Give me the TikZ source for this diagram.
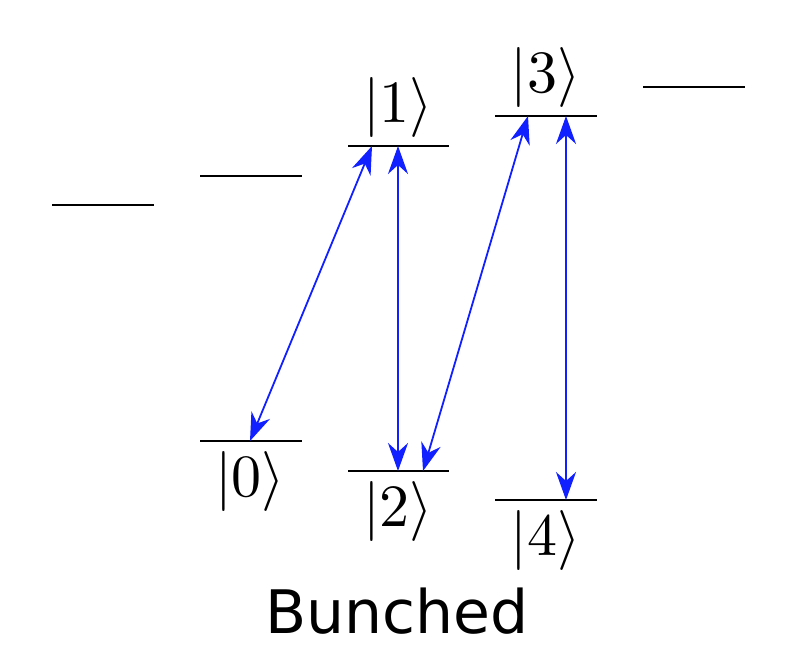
\documentclass[tikz,border=0pt]{standalone}
\usepackage{fontspec}
\newfontfamily\labelfont{DejaVu Sans}
\usetikzlibrary{arrows.meta}
\begin{document}
\begin{tikzpicture}[x=1pt,y=-1pt,
  level/.style={line width=2.6pt},
  trans/.style={draw={rgb,255:red,16;green,32;blue,255},line width=1.8pt,
    {Stealth[length=28pt,width=20pt,inset=9pt]}-{Stealth[length=28pt,width=20pt,inset=9pt]}},
  ket/.style={scale=6,inner sep=0pt}]
\useasboundingbox (0,0) rectangle (797,650);
% upper levels
\coordinate (ua) at (52,205); \coordinate (ub) at (154,205);
\coordinate (va) at (200,176); \coordinate (vb) at (302,176);
\coordinate (w1a) at (348,146); \coordinate (w1b) at (449,146);
\coordinate (w3a) at (495,116); \coordinate (w3b) at (597,116);
\coordinate (ra) at (643,87); \coordinate (rb) at (745,87);
% lower levels
\coordinate (l0a) at (200,441); \coordinate (l0b) at (302,441);
\coordinate (l2a) at (348,471); \coordinate (l2b) at (449,471);
\coordinate (l4a) at (495,500); \coordinate (l4b) at (597,500);
\draw[level] (ua) -- (ub);
\draw[level] (va) -- (vb);
\draw[level] (w1a) -- (w1b);
\draw[level] (w3a) -- (w3b);
\draw[level] (ra) -- (rb);
\draw[level] (l0a) -- (l0b);
\draw[level] (l2a) -- (l2b);
\draw[level] (l4a) -- (l4b);
% labels
\node[ket,anchor=south] (k1) at (398,139) {$|1\rangle$};
\node[ket,anchor=south] (k3) at (545.5,109) {$|3\rangle$};
\node[ket,anchor=north] (k0) at (250,450) {$|0\rangle$};
\node[ket,anchor=north] (k2) at (398,480) {$|2\rangle$};
\node[ket,anchor=north] (k4) at (545.5,509) {$|4\rangle$};
% transition endpoints
\coordinate (t0) at (250,441);
\coordinate (t1a) at (372,146);
\coordinate (t1b) at (398,146);
\coordinate (t2a) at (398,471);
\coordinate (t2b) at (423,471);
\coordinate (t3a) at (528,116);
\coordinate (t3b) at (566,116);
\coordinate (t4) at (566,500);
\draw[trans] (t0) -- (t1a);
\draw[trans] (t1b) -- (t2a);
\draw[trans] (t2b) -- (t3a);
\draw[trans] (t3b) -- (t4);
\node[font=\labelfont\fontsize{60}{64}\selectfont,anchor=base,inner sep=0pt] (title) at (397,633) {Bunched};
\end{tikzpicture}
\end{document}
